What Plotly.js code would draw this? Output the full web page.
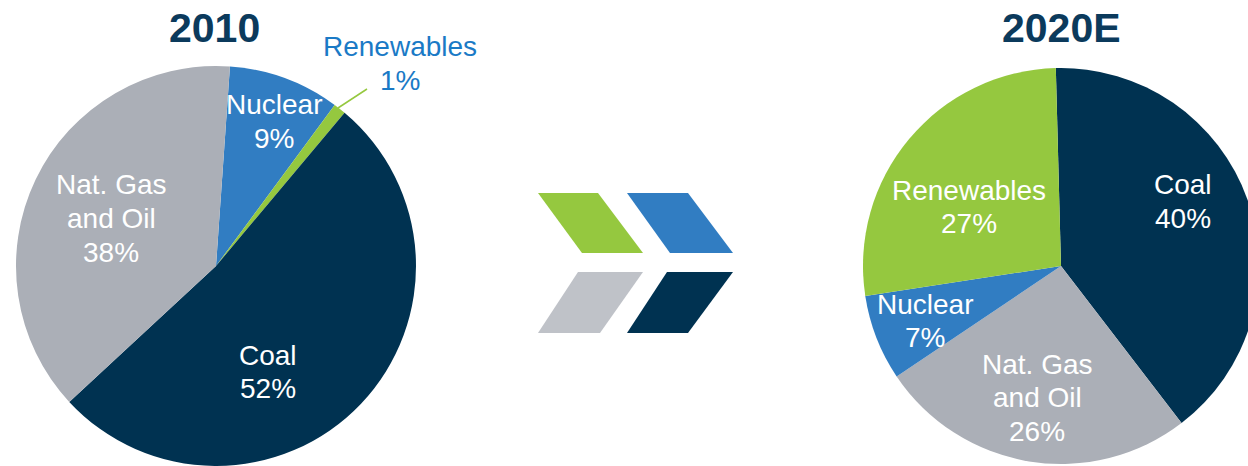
<!DOCTYPE html>
<html>
<head>
<meta charset="utf-8">
<script src="https://cdn.plot.ly/plotly-3.0.1.min.js"></script>
<style>
html,body{margin:0;padding:0;overflow:hidden;background:#fff;width:1248px;height:466px;}
#chart{width:1272px;height:466px;}
</style>
</head>
<body>
<div id="chart"></div>
<script>
// ---- data ----
const titles = ["2010", "2020E"];
const labels2010 = ["Nuclear", "Renewables", "Coal", "Nat. Gas and Oil"];
const values2010 = [9, 1, 52, 38];
const labels2020 = ["Coal", "Nat. Gas and Oil", "Nuclear", "Renewables"];
const values2020 = [40, 26, 7, 27];
const colorOf = {
  "Coal": "#003251",
  "Nat. Gas and Oil": "#ABAFB7",
  "Nuclear": "#317DC2",
  "Renewables": "#95C83F"
};

// ---- layout helpers ----
const W = 1272, H = 466;
const px = x => x / W;
const py = y => 1 - y / H;
const FONT = "Liberation Sans, Arial, sans-serif";

function pieTrace(labels, values, cx, cy, r, rot) {
  return {
    type: "pie", labels: labels, values: values, sort: false,
    direction: "clockwise", rotation: rot,
    marker: {colors: labels.map(l => colorOf[l]), line: {width: 0}},
    textinfo: "none", hoverinfo: "none", showlegend: false,
    domain: {x: [px(cx - r), px(cx + r)], y: [py(cy + r), py(cy - r)]}
  };
}

const annotations = [];
function label(lines, cx, y0, color) {
  lines.forEach((t, i) => {
    annotations.push({
      xref: "paper", yref: "paper", x: px(cx), y: py(y0 + i * 33.5),
      text: t, showarrow: false, xanchor: "center", yanchor: "middle",
      font: {family: FONT, size: 28, color: color || "#ffffff"}
    });
  });
}
function pct(labels, values, name) {
  return values[labels.indexOf(name)] + "%";
}
function nameLines(name) {
  return name === "Nat. Gas and Oil" ? ["Nat. Gas", "and Oil"] : [name];
}
function sliceLabel(labels, values, name, cx, y0, color) {
  label(nameLines(name).concat([pct(labels, values, name)]), cx, y0, color);
}

// titles
[[titles[0], 214], [titles[1], 1061]].forEach(([t, x]) => {
  annotations.push({
    xref: "paper", yref: "paper", x: px(x), y: py(28), text: "<b>" + t + "</b>",
    showarrow: false, xanchor: "center", yanchor: "middle",
    font: {family: FONT, size: 41, color: "#0B3A5C"}
  });
});

// 2010 labels
sliceLabel(labels2010, values2010, "Nuclear", 274, 104.5);
sliceLabel(labels2010, values2010, "Renewables", 400, 46.5, "#1A7AC6");
sliceLabel(labels2010, values2010, "Nat. Gas and Oil", 111, 185);
sliceLabel(labels2010, values2010, "Coal", 268, 355);
// 2020 labels
sliceLabel(labels2020, values2020, "Coal", 1183, 185);
sliceLabel(labels2020, values2020, "Renewables", 969, 190);
sliceLabel(labels2020, values2020, "Nuclear", 925, 304);
sliceLabel(labels2020, values2020, "Nat. Gas and Oil", 1037, 364);

// shapes: leader line + logo
const shapes = [{
  type: "line", xref: "paper", yref: "paper",
  x0: px(338), y0: py(108), x1: px(367), y1: py(89),
  line: {color: "#95C83F", width: 1.5}
}];
function para(pts, color) {
  const d = pts.map((p, i) => (i ? "L" : "M") + px(p[0]).toFixed(5) + "," + py(p[1]).toFixed(5)).join(" ") + " Z";
  shapes.push({type: "path", xref: "paper", yref: "paper", path: d,
    fillcolor: color, line: {width: 0}});
}
para([[538,193],[598,193],[643,253],[582,253]], colorOf["Renewables"]);
para([[627,193],[688,193],[733,253],[670,253]], colorOf["Nuclear"]);
para([[578,272],[643,272],[600,333],[538,333]], "#BFC2C8");
para([[667,272],[733,272],[688,333],[627,333]], colorOf["Coal"]);

const data = [
  pieTrace(labels2010, values2010, 216, 266, 200, 4),
  pieTrace(labels2020, values2020, 1061, 266, 198, -1.5)
];

Plotly.newPlot("chart", data, {
  width: W, height: H, margin: {l: 0, r: 0, t: 0, b: 0},
  paper_bgcolor: "#ffffff", plot_bgcolor: "#ffffff",
  annotations: annotations, shapes: shapes
}, {displayModeBar: false, staticPlot: true});
</script>
</body>
</html>
